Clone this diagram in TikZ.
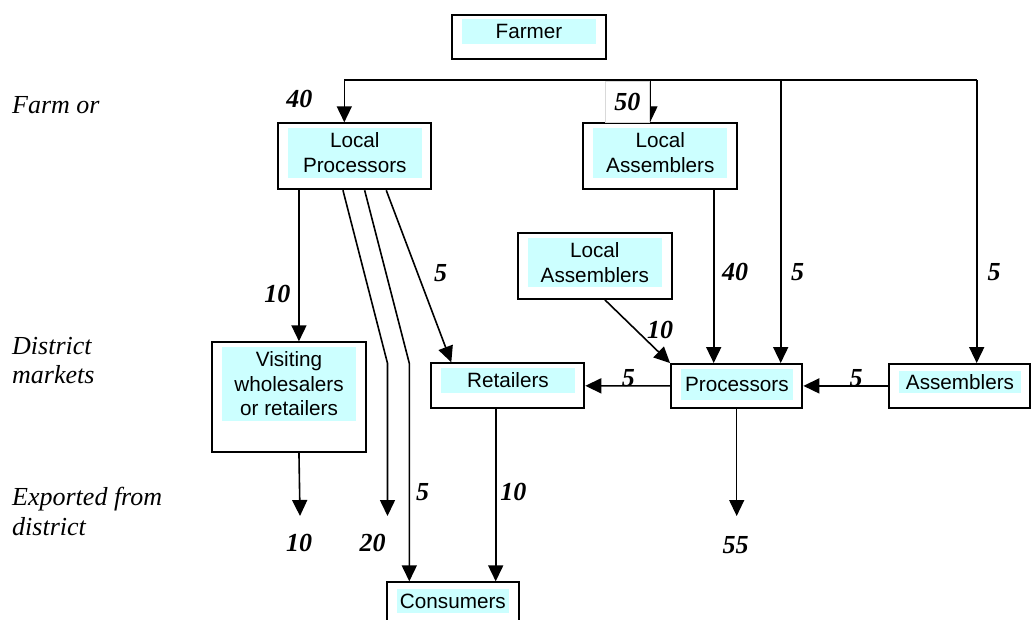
\documentclass[tikz,border=0pt]{standalone}
\usepackage{fontspec}
\setmainfont{Liberation Serif}
\newfontfamily\boxfont{Liberation Sans}
\usetikzlibrary{arrows.meta,calc}
\definecolor{boxcyan}{RGB}{204,255,255}
\begin{document}
\begin{tikzpicture}[x=1pt,y=-1pt,
  frame/.style={draw=black,line width=2pt,inner sep=0pt,fill=white},
  shade/.style={fill=boxcyan,inner sep=0pt,align=center,font=\boxfont\fontsize{20.7}{24.5}\selectfont},
  conn/.style={line width=1.6pt},
  arr/.style={conn,-{Triangle[length=16pt,width=15pt]}},
  num/.style={font=\fontsize{26}{30}\selectfont\bfseries\itshape,inner sep=0pt},
  tier/.style={font=\fontsize{26}{29.5}\selectfont\itshape,align=left,anchor=west,inner sep=0pt}]
\useasboundingbox (0,0) rectangle (1033,619);
\clip (0,0) rectangle (1033,619);

% tier labels
\node[tier] (t1) at (12,105) {Farm or};
\node[tier] (t2) at (12,360.5) {District\\markets};
\node[tier] (t3) at (12,511.7) {Exported from\\district};

% boxes
\node[frame,minimum width=153.7pt,minimum height=44.3pt] (farmer) at (529.2,36.9) {};
\node[shade,minimum width=134pt,minimum height=24.7pt] (farmerT) at (529,31.3) {Farmer};

\node[frame,minimum width=153.3pt,minimum height=66pt] (lp) at (354.3,156.3) {};
\node[shade,minimum width=134.3pt,minimum height=49.7pt] (lpT) at (354.8,152.8) {Local\\Processors};

\node[frame,minimum width=153.4pt,minimum height=65.7pt] (la1) at (660,156.2) {};
\node[shade,minimum width=134pt,minimum height=49.7pt] (la1T) at (660.3,152.8) {Local\\Assemblers};

\node[frame,minimum width=154pt,minimum height=66.3pt] (la2) at (594.7,265.8) {};
\node[shade,minimum width=134.3pt,minimum height=48.4pt] (la2T) at (594.8,262.5) {Local\\Assemblers};

\node[frame,minimum width=153.7pt,minimum height=109.4pt] (vis) at (289.2,397) {};
\node[shade,minimum width=134pt,minimum height=73.4pt] (visT) at (289,384) {Visiting\\wholesalers\\or retailers};

\node[frame,minimum width=153.6pt,minimum height=45pt] (ret) at (507.5,385.8) {};
\node[shade,minimum width=134pt,minimum height=25pt] (retT) at (508,380.2) {Retailers};

\node[frame,minimum width=131.3pt,minimum height=43.7pt] (proc) at (736.7,385.9) {};
\node[shade,minimum width=111.7pt,minimum height=31pt] (procT) at (736.9,384.5) {Processors};

\node[frame,minimum width=140.7pt,minimum height=43.7pt] (asm) at (959.7,385.9) {};
\node[shade,minimum width=122pt,minimum height=22pt] (asmT) at (960,381.7) {Assemblers};

\node[frame,minimum width=132.3pt,minimum height=47.7pt] (con) at (452.9,606.2) {};
\node[shade,minimum width=112.3pt,minimum height=24pt] (conT) at (452.9,601.3) {Consumers};

% top distribution line from farm
\coordinate (h1) at (344.3,80);
\coordinate (h50) at (650,80);
\coordinate (h5) at (780.7,80);
\coordinate (h2) at (976.7,80);
\draw[conn] (h2) -- (h1);
\draw[arr] (h1) -- (h1 |- lp.north);
\draw[arr,line width=1pt] (h50) -- (h50 |- la1.north);
\draw[arr] (h5) -- (h5 |- proc.north);
\draw[arr] (h2) -- (h2 |- asm.north);

% local assemblers to processors
\coordinate (la1S) at ([xshift=131.4pt]la1.south west);
\draw[arr] (la1S) -- (la1S |- proc.north);
\draw[arr] ([xshift=88.3pt]la2.south west) -- (proc.north west);

% horizontal flows
\draw[arr] (asm.west) -- (proc.east);
\draw[arr] (proc.west) -- (ret.east);

% local processors outflows
\coordinate (lpV) at ([xshift=22.3pt]lp.south west);
\draw[arr] (lpV) -- (lpV |- vis.north);
\coordinate (lpA) at ([xshift=66.3pt]lp.south west);
\coordinate (lpB) at ([xshift=88pt]lp.south west);
\coordinate (lpC) at ([xshift=109.6pt]lp.south west);
\coordinate (bendA) at (387.5,363.3);
\coordinate (bendB) at (409.3,363.3);
\coordinate (ex20) at (387.5,516);
\draw[arr] (lpA) -- (bendA) -- (ex20);
\draw[arr] (lpB) -- (bendB) -- (bendB |- con.north);
\draw[arr] (lpC) -- ([xshift=21.6pt]ret.north west);

% to consumers / exports
\coordinate (retS) at ([xshift=66pt]ret.south west);
\draw[arr] (retS) -- (retS |- con.north);
\coordinate (ex10) at (300,516);
\draw[arr] (lpV |- vis.south) -- (ex10);
\coordinate (ex55) at (736.7,516);
\draw[arr,line width=1.3pt] (proc.south) -- (ex55);

% quantities
\node[num] (q40a) at (299.3,99) {40};
\node[num,fill=white,draw=gray!30,line width=0.4pt,minimum width=44.5pt,minimum height=41pt] (q50) at (627.25,102) {50};
\node[num] (q10a) at (277.3,294.3) {10};
\node[num] (q5a) at (440.7,272.7) {5};
\node[num] (q40b) at (735,272.3) {40};
\node[num] (q5b) at (797.7,272.3) {5};
\node[num] (q5c) at (994,272.3) {5};
\node[num] (q10b) at (660,330) {10};
\node[num] (q5d) at (628.3,378.3) {5};
\node[num] (q5e) at (856,378.3) {5};
\node[num] (q10c) at (299,542.7) {10};
\node[num] (q20) at (372.7,542.7) {20};
\node[num] (q5f) at (422.7,491.7) {5};
\node[num] (q10d) at (513.3,491.7) {10};
\node[num] (q55) at (735.7,545) {55};
\end{tikzpicture}
\end{document}
